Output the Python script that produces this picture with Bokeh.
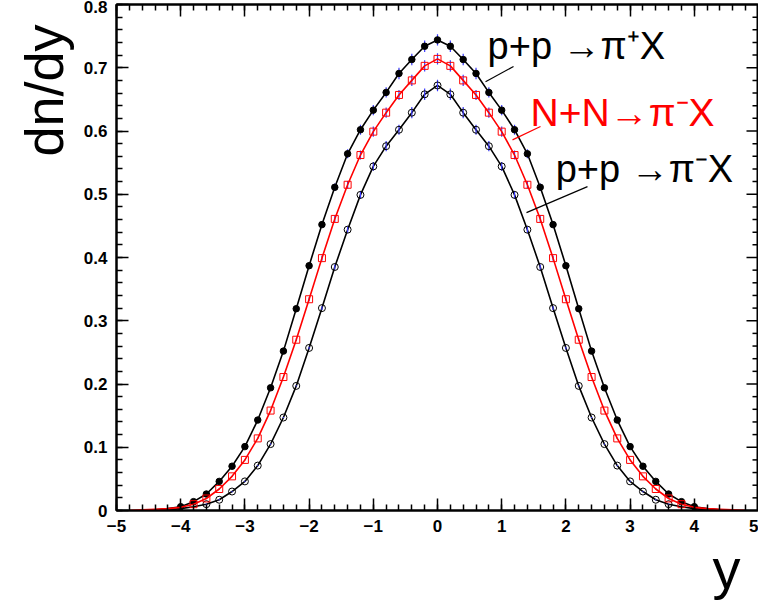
from bokeh.plotting import figure
from bokeh.models import Range1d, LinearAxis, SingleIntervalTicker, Label, Title
from bokeh.embed import file_html
from bokeh.resources import INLINE

# ---------------- data ----------------
x_pip = [-4.0, -3.8, -3.6, -3.4, -3.2, -3.0, -2.8, -2.6, -2.4, -2.2, -2.0, -1.8, -1.6, -1.4, -1.2, -1.0,
         -0.8, -0.6, -0.4, -0.2, 0.0, 0.2, 0.4, 0.6, 0.8, 1.0, 1.2, 1.4, 1.6, 1.8, 2.0, 2.2, 2.4, 2.6,
         2.8, 3.0, 3.2, 3.4, 3.6, 3.8, 4.0]
y_pip = [0.006, 0.014, 0.026, 0.046, 0.070, 0.101, 0.143, 0.194, 0.252, 0.319, 0.387, 0.452, 0.511, 0.564,
         0.602, 0.633, 0.661, 0.691, 0.713, 0.734, 0.744, 0.734, 0.713, 0.691, 0.661, 0.633, 0.602, 0.564,
         0.511, 0.452, 0.387, 0.319, 0.252, 0.194, 0.143, 0.101, 0.070, 0.046, 0.026, 0.014, 0.006]
e_pip = [0.001, 0.001, 0.001, 0.001, 0.001, 0.001, 0.001, 0.001, 0.002, 0.003, 0.004, 0.005, 0.006, 0.007,
         0.008, 0.008, 0.008, 0.009, 0.009, 0.009, 0.009, 0.009, 0.009, 0.009, 0.008, 0.008, 0.008, 0.007,
         0.006, 0.005, 0.004, 0.003, 0.002, 0.001, 0.001, 0.001, 0.001, 0.001, 0.001, 0.001, 0.001]

x_nn = [-3.8, -3.6, -3.4, -3.2, -3.0, -2.8, -2.6, -2.4, -2.2, -2.0, -1.8, -1.6, -1.4, -1.2, -1.0,
        -0.8, -0.6, -0.4, -0.2, 0.0, 0.2, 0.4, 0.6, 0.8, 1.0, 1.2, 1.4, 1.6, 1.8, 2.0, 2.2, 2.4, 2.6,
        2.8, 3.0, 3.2, 3.4, 3.6, 3.8]
y_nn = [0.010, 0.019, 0.034, 0.054, 0.080, 0.114, 0.158, 0.211, 0.270, 0.334, 0.399, 0.461, 0.515, 0.562,
        0.599, 0.629, 0.657, 0.680, 0.703, 0.714, 0.703, 0.680, 0.657, 0.629, 0.599, 0.562, 0.515, 0.461,
        0.399, 0.334, 0.270, 0.211, 0.158, 0.114, 0.080, 0.054, 0.034, 0.019, 0.010]
e_nn = [0.001, 0.001, 0.001, 0.001, 0.001, 0.001, 0.001, 0.001, 0.002, 0.003, 0.004, 0.005, 0.006, 0.007,
        0.008, 0.008, 0.008, 0.009, 0.009, 0.009, 0.009, 0.009, 0.008, 0.008, 0.008, 0.007, 0.006, 0.005,
        0.004, 0.003, 0.002, 0.001, 0.001, 0.001, 0.001, 0.001, 0.001, 0.001, 0.001]

x_pim = [-3.6, -3.4, -3.2, -3.0, -2.8, -2.6, -2.4, -2.2, -2.0, -1.8, -1.6, -1.4, -1.2, -1.0,
         -0.8, -0.6, -0.4, -0.2, 0.0, 0.2, 0.4, 0.6, 0.8, 1.0, 1.2, 1.4, 1.6, 1.8, 2.0, 2.2, 2.4, 2.6,
         2.8, 3.0, 3.2, 3.4, 3.6]
y_pim = [0.010, 0.017, 0.030, 0.046, 0.071, 0.105, 0.147, 0.197, 0.257, 0.320, 0.385, 0.444, 0.499, 0.544,
         0.576, 0.602, 0.629, 0.658, 0.672, 0.658, 0.629, 0.602, 0.576, 0.544, 0.499, 0.444, 0.385, 0.320,
         0.257, 0.197, 0.147, 0.105, 0.071, 0.046, 0.030, 0.017, 0.010]
e_pim = [0.001, 0.001, 0.001, 0.001, 0.001, 0.001, 0.001, 0.001, 0.002, 0.003, 0.004, 0.005, 0.006, 0.007,
         0.008, 0.008, 0.009, 0.009, 0.009, 0.009, 0.009, 0.008, 0.008, 0.007, 0.006, 0.005, 0.004, 0.003,
         0.002, 0.001, 0.001, 0.001, 0.001, 0.001, 0.001, 0.001, 0.001]

# curve tails (line only)
xl_pip_lo = [-4.6, -4.4, -4.2]
yl_pip_lo = [0.000, 0.001, 0.003]
xl_pip_hi = [4.2, 4.4, 4.6]
yl_pip_hi = [0.003, 0.001, 0.000]
xl_nn_lo = [-4.8, -4.6, -4.4, -4.2, -4.0]
yl_nn_lo = [0.000, 0.001, 0.002, 0.003, 0.005]
xl_nn_hi = [4.0, 4.2, 4.4, 4.6, 4.8]
yl_nn_hi = [0.005, 0.003, 0.002, 0.001, 0.000]
xl_pim_lo = [-4.4, -4.2, -4.0, -3.8]
yl_pim_lo = [0.000, 0.001, 0.003, 0.006]
xl_pim_hi = [3.8, 4.0, 4.2, 4.4]
yl_pim_hi = [0.006, 0.003, 0.001, 0.000]

labels = ["p+p \u2192\u03c0\u207aX", "N+N\u2192\u03c0\u207bX", "p+p \u2192\u03c0\u207bX"]
label_x = [0.78, 1.45, 1.84]
label_y = [0.735, 0.630, 0.540]
label_sizes = ["38px", "39px", "38px"]
pointer_x0 = [1.184, 1.604, 2.336]
pointer_y0 = [0.702, 0.607, 0.512]
pointer_x1 = [0.748, 1.168, 1.386]
pointer_y1 = [0.678, 0.586, 0.471]
label_colors = ["black", "red", "black"]

# right-frame tick marks (ROOT draws ticks on all four sides)
right_major = [0.1, 0.2, 0.3, 0.4, 0.5, 0.6, 0.7]
right_minor = [round(0.02 * i, 2) for i in range(1, 40) if i % 5 != 0]

FONT = "Liberation Sans"

p = figure(width=758, height=607, x_range=Range1d(-5, 5), y_range=Range1d(0, 0.8),
           output_backend="svg", toolbar_location=None,
           min_border_left=116, min_border_right=0, min_border_top=4, min_border_bottom=97)
p.xgrid.visible = False
p.ygrid.visible = False
p.outline_line_color = "black"
p.outline_line_width = 2
p.background_fill_color = "white"
p.border_fill_color = "white"

p.xaxis.ticker = SingleIntervalTicker(interval=1, num_minor_ticks=5)
p.yaxis.ticker = SingleIntervalTicker(interval=0.1, num_minor_ticks=5)

def style_axis(ax, show_labels=True):
    ax.major_tick_out = 0
    ax.major_tick_in = 12
    ax.minor_tick_out = 0
    ax.minor_tick_in = 6
    ax.axis_line_width = 2
    ax.axis_line_color = "black"
    ax.major_tick_line_width = 1.5
    ax.minor_tick_line_width = 1.5
    ax.major_tick_line_color = "black"
    ax.minor_tick_line_color = "black"
    ax.major_label_text_font = FONT
    ax.major_label_text_font_style = "bold"
    ax.major_label_text_color = "black"
    if show_labels:
        ax.major_label_text_font_size = "17px"
        ax.major_label_standoff = 9
    else:
        ax.major_label_text_font_size = "0px"
        ax.major_label_standoff = 0

style_axis(p.xaxis[0])
style_axis(p.yaxis[0])
top = LinearAxis(ticker=SingleIntervalTicker(interval=1, num_minor_ticks=5))
style_axis(top, False)
p.add_layout(top, "above")

# right-side ticks, half clipped by the frame edge
p.scatter([5] * len(right_major), right_major, marker="dash", size=24, line_color="black", line_width=1.5)
p.scatter([5] * len(right_minor), right_minor, marker="dash", size=12, line_color="black", line_width=1.5)

# axis titles
p.add_layout(Title(text="y", align="right", offset=18, standoff=0, text_font=FONT,
                   text_font_size="56px", text_font_style="normal", text_color="black"), "below")
p.add_layout(Title(text="dn/dy", align="right", vertical_align="top", offset=20, standoff=10, text_font=FONT,
                   text_font_size="54px", text_font_style="normal", text_color="black"), "left")

# lines
p.line(xl_pip_lo + x_pip + xl_pip_hi, yl_pip_lo + y_pip + yl_pip_hi, line_color="black", line_width=1.6)
p.line(xl_pim_lo + x_pim + xl_pim_hi, yl_pim_lo + y_pim + yl_pim_hi, line_color="black", line_width=1.6)

# error bars
for xs, ys, es in [(x_pip, y_pip, e_pip), (x_pim, y_pim, e_pim), (x_nn, y_nn, e_nn)]:
    p.segment(x0=xs, x1=xs, y0=[y - e for y, e in zip(ys, es)], y1=[y + e for y, e in zip(ys, es)],
              line_color="#3a3aff", line_width=1.2)

p.scatter(x_pip, y_pip, marker="circle", size=6.5, fill_color="black", line_color="black")
p.scatter(x_pim, y_pim, marker="circle", size=7, fill_color=None, line_color="black", line_width=1)

p.line(xl_nn_lo + x_nn + xl_nn_hi, yl_nn_lo + y_nn + yl_nn_hi, line_color="red", line_width=1.6)
p.scatter(x_nn, y_nn, marker="square", size=7, fill_color=None, line_color="red", line_width=1)

# annotation pointers and labels
p.segment(x0=pointer_x0, y0=pointer_y0, x1=pointer_x1, y1=pointer_y1, line_color=label_colors, line_width=1.2)
for t, lx, ly, c, s in zip(labels, label_x, label_y, label_colors, label_sizes):
    p.add_layout(Label(x=lx, y=ly, text=t, text_color=c, text_font=FONT, text_font_size=s,
                       text_baseline="alphabetic", text_align="left"))

open("out.html", "w").write(file_html(p, INLINE))
